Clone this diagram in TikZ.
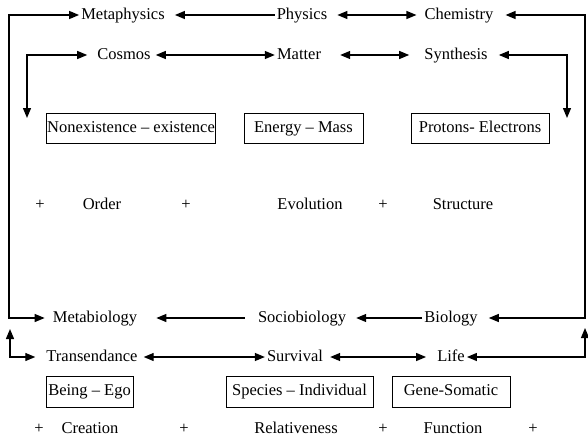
\documentclass[tikz,border=0pt]{standalone}
\usepackage{fontspec}
\setmainfont{Liberation Serif}
\usetikzlibrary{arrows.meta}
\tikzset{
  >={Triangle[length=10pt,width=8pt]},
  lbl/.style={inner sep=2pt, text height=11.5pt, text depth=3.5pt, font=\fontsize{16.5}{19}\selectfont},
  bx/.style={lbl, draw, line width=1pt, minimum height=30pt, inner xsep=1pt},
  lnk/.style={line width=1.3pt},
}
\begin{document}
\begin{tikzpicture}[x=1pt,y=-1pt]
\useasboundingbox (0,0) rectangle (588,439);
%					Tracé des termes du haut :
\node[lbl] (metaphys) at (123,15) {Metaphysics};
\node[lbl] (physics) at (302,15) {Physics};
\node[lbl] (chem) at (459,15) {Chemistry};
\node[lbl] (cosmos) at (124,55) {Cosmos};
\node[lbl] (matter) at (299,55) {Matter};
\node[lbl] (synth) at (456,55) {Synthesis};
%					Tracé des cadres :
\node[bx, minimum width=166pt] (nonex) at (131,128) {Nonexistence -- existence};
\node[bx, minimum width=119pt] (energy) at (303.5,128) {Energy -- Mass};
\node[bx, minimum width=138pt] (protons) at (480,128) {Protons- Electrons};
%					Tracé de la ligne du milieu :
\node[lbl] (pa) at (40,205) {+};
\node[lbl] (order) at (102,205) {Order};
\node[lbl] (pb) at (186,205) {+};
\node[lbl] (evol) at (310,205) {Evolution};
\node[lbl] (pc) at (383,205) {+};
\node[lbl] (struct) at (463,205) {Structure};
%					Tracé des termes du bas :
\node[lbl] (metabio) at (95,318) {Metabiology};
\node[lbl] (socio) at (302,318) {Sociobiology};
\node[lbl] (bio) at (451,318) {Biology};
\node[lbl] (trans) at (92,357) {Transendance};
\node[lbl] (surv) at (295,357) {Survival};
\node[lbl] (life) at (451,357) {Life};
\node[bx, minimum width=87pt, minimum height=31pt] (being) at (89.5,391.5) {Being -- Ego};
\node[bx, minimum width=147pt, minimum height=31pt] (species) at (299.5,391.5) {Species -- Individual};
\node[bx, minimum width=118pt, minimum height=31pt] (gene) at (451,391.5) {Gene-Somatic};
\node[lbl] (pd) at (39,429) {+};
\node[lbl] (creation) at (90,429) {Creation};
\node[lbl] (pe) at (184,429) {+};
\node[lbl] (relat) at (296,429) {Relativeness};
\node[lbl] (pf) at (383,429) {+};
\node[lbl] (func) at (453,429) {Function};
\node[lbl] (pg) at (533,429) {+};
%					Coins et extrémités libres :
\coordinate (gauche) at (9,0);
\coordinate (droite) at (585,0);
\coordinate (cl) at (27,118);
\coordinate (cr) at (567,118);
\coordinate (upl) at (10,329);
\coordinate (upr) at (585,328);
%					Tracé des flèches :
\draw[lnk,<->,shorten >=6pt] (metaphys.west) -- (metaphys.west -| gauche) |- (metabio.west);
\draw[lnk,<->,shorten <=10pt,shorten >=9pt] (chem.east) -- (chem.east -| droite) |- (bio.east);
\draw[lnk,<->,shorten <=8pt] (cosmos.west) -| (cl);
\draw[lnk,<->,shorten <=9pt] (synth.east) -| (cr);
\draw[lnk,->,shorten >=8pt] (physics) -- (metaphys);
\draw[lnk,<->,shorten <=8pt,shorten >=6pt] (physics) -- (chem);
\draw[lnk,<->,shorten <=3pt] (cosmos) -- (matter);
\draw[lnk,<->,shorten <=17pt,shorten >=13pt] (matter) -- (synth);
\draw[lnk,->,shorten <=11pt,shorten >=17pt] (socio) -- (metabio);
\draw[lnk,->,shorten >=8pt] (bio) -- (socio);
\draw[lnk,<->,shorten <=9pt] (trans.west) -| (upl);
\draw[lnk,<->] (life.east) -| (upr);
\draw[lnk,<->,shorten <=4pt] (trans) -- (surv);
\draw[lnk,<->,shorten <=5pt,shorten >=9pt] (surv) -- (life);
\end{tikzpicture}
\end{document}
